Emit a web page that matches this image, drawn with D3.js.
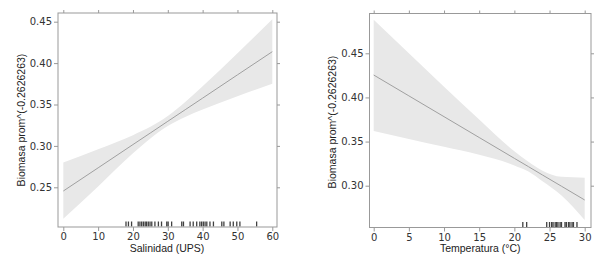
<!DOCTYPE html>
<html>
<head>
<meta charset="utf-8">
<script src="https://cdn.jsdelivr.net/npm/d3@7"></script>
<style>
  body { margin: 0; background: #fff; }
  svg { display: block; }
</style>
</head>
<body>
<svg id="chart" width="608" height="268"></svg>
<script>
// panel 1 - salinidad
const salX = [0, 10, 20, 25, 30, 35, 40, 50, 60];
const salFit = [0.2455, 0.2735, 0.3016, 0.3156, 0.3297, 0.3437, 0.3577, 0.3858, 0.4138];
const salUpper = [0.280, 0.296, 0.313, 0.323, 0.336, 0.353, 0.372, 0.412, 0.453];
const salLower = [0.212, 0.251, 0.291, 0.309, 0.324, 0.335, 0.344, 0.360, 0.375];
const salRug = [18.0, 18.7, 19.6, 21.5, 22.0, 22.5, 23.0, 23.5, 23.9, 24.4, 24.9, 25.4,
  26.3, 27.3, 28.2, 29.7, 30.1, 31.1, 34.0, 34.5, 36.4, 37.3, 38.3, 39.2, 39.7, 40.2,
  40.7, 41.2, 42.1, 43.1, 45.5, 46.1, 47.9, 48.8, 49.8, 50.7, 55.5];
const salXTicks = [0, 10, 20, 30, 40, 50, 60];
const salYTicks = [0.25, 0.30, 0.35, 0.40, 0.45];

// panel 2 - temperatura
const tempX = [0, 5, 10, 15, 20, 22, 24, 26.7, 30];
const tempFit = [0.4254, 0.4018, 0.3782, 0.3546, 0.3310, 0.3216, 0.3121, 0.2994, 0.2838];
const tempUpper = [0.488, 0.450, 0.412, 0.375, 0.339, 0.327, 0.317, 0.310, 0.309];
const tempLower = [0.362, 0.353, 0.344, 0.335, 0.323, 0.316, 0.305, 0.289, 0.261];
const tempRug = [21.2, 21.75, 24.6, 25.0, 25.3, 25.5, 25.8, 26.0, 26.2, 26.5, 26.7,
  27.2, 27.4, 27.7, 27.9, 28.2, 28.4, 28.9];
const tempXTicks = [0, 5, 10, 15, 20, 25, 30];
const tempYTicks = [0.30, 0.35, 0.40, 0.45];

const yTitle = "Biomasa prom^(-0.2626263)";
const svg = d3.select("#chart");

function drawPanel(p) {
  const x = d3.scaleLinear().domain(p.xd).range(p.xr);
  const y = d3.scaleLinear().domain(p.yd).range(p.yr);
  const g = svg.append("g");
  const rows = p.xs.map((v, i) => ({ x: v, fit: p.fit[i], lo: p.lo[i], hi: p.hi[i] }));

  // banda de confianza
  g.append("path")
    .datum(rows)
    .attr("fill", "#e8e8e8")
    .attr("d", d3.area().x(d => x(d.x)).y0(d => y(d.lo)).y1(d => y(d.hi)).curve(d3.curveMonotoneX));

  g.append("path")
    .datum(rows)
    .attr("fill", "none")
    .attr("stroke", "#a0a0a0")
    .attr("stroke-width", 1)
    .attr("d", d3.line().x(d => x(d.x)).y(d => y(d.fit)));

  // rug
  g.selectAll(".rug")
    .data(p.rug)
    .enter().append("line")
    .attr("x1", d => x(d)).attr("x2", d => x(d))
    .attr("y1", p.box[3] - 5.5).attr("y2", p.box[3] - 0.5)
    .attr("stroke", "#000")
    .attr("stroke-opacity", 0.75)
    .attr("stroke-width", 1.3);

  g.append("rect")
    .attr("x", p.box[0]).attr("y", p.box[1])
    .attr("width", p.box[2] - p.box[0]).attr("height", p.box[3] - p.box[1])
    .attr("fill", "none").attr("stroke", "#999").attr("stroke-width", 1);

  const ax = (sel) => {
    sel.select(".domain").remove();
    sel.selectAll(".tick line").attr("stroke", "#999");
    sel.selectAll("text").attr("fill", "#333")
      .style("font-family", "DejaVu Sans, sans-serif").style("font-size", "10px");
  };

  g.append("g").attr("transform", `translate(0,${p.box[3]})`)
    .call(d3.axisBottom(x).tickValues(p.xt).tickSize(4).tickPadding(2).tickFormat(d3.format("d")))
    .call(ax);
  g.append("g").attr("transform", `translate(0,${p.box[1]})`)
    .call(d3.axisTop(x).tickValues(p.xt).tickSize(3).tickFormat(""))
    .call(ax);
  g.append("g").attr("transform", `translate(${p.box[0]},0)`)
    .call(d3.axisLeft(y).tickValues(p.yt).tickSize(4).tickPadding(2).tickFormat(d3.format(".2f")))
    .call(ax);
  g.append("g").attr("transform", `translate(${p.box[2]},0)`)
    .call(d3.axisRight(y).tickValues(p.yt).tickSize(3).tickFormat(""))
    .call(ax);

  g.append("text")
    .attr("x", (p.box[0] + p.box[2]) / 2 + p.xTitleShift).attr("y", 252)
    .attr("text-anchor", "middle")
    .attr("fill", "#222")
    .style("font-family", "Liberation Sans, Arial, sans-serif").style("font-size", "10.5px")
    .text(p.xTitle);

  g.append("text")
    .attr("transform", `translate(${p.yTitleX},${p.yTitleY}) rotate(-90)`)
    .attr("text-anchor", "middle")
    .attr("fill", "#222")
    .style("font-family", "Liberation Sans, Arial, sans-serif").style("font-size", "10.5px")
    .text(yTitle);
}

drawPanel({
  xd: [0, 60], xr: [63.3, 272.3],
  yd: [0.25, 0.45], yr: [187.3, 21.7],
  box: [58, 13, 277, 227],
  xs: salX, fit: salFit, lo: salLower, hi: salUpper, rug: salRug,
  xt: salXTicks, yt: salYTicks,
  xTitle: "Salinidad (UPS)", xTitleShift: -0.5,
  yTitleX: 25, yTitleY: 120
});

drawPanel({
  xd: [0, 30], xr: [373.7, 584.7],
  yd: [0.30, 0.45], yr: [185.7, 53.3],
  box: [369.5, 13.5, 591, 227.5],
  xs: tempX, fit: tempFit, lo: tempLower, hi: tempUpper, rug: tempRug,
  xt: tempXTicks, yt: tempYTicks,
  xTitle: "Temperatura (°C)", xTitleShift: 0,
  yTitleX: 335.5, yTitleY: 122
});
</script>
</body>
</html>
